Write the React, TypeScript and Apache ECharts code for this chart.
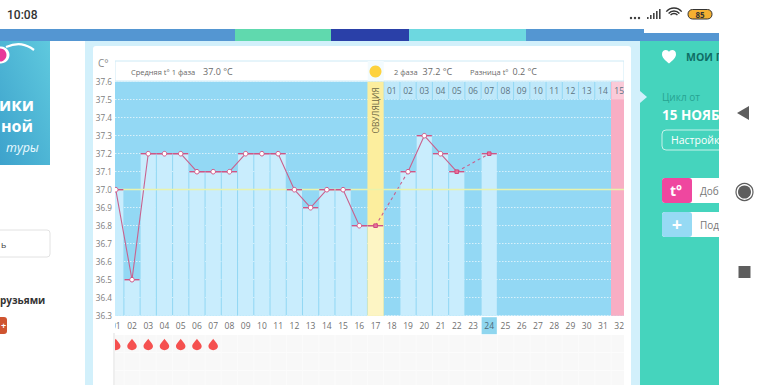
import React, { useEffect, useRef } from "react";
import * as echarts from "echarts";

const axisDays = Array.from({ length: 32 }, (_, i) => i + 1);
const dayLabels = ["01","02","03","04","05","06","07","08","09","10","11","12","13","14","15","16","17","18","19","20","21","22","23","24","25","26","27","28","29","30","31","32"];
const temps: [number, number][] = [[1,37.0],[2,36.5],[3,37.2],[4,37.2],[5,37.2],[6,37.1],[7,37.1],[8,37.1],[9,37.2],[10,37.2],[11,37.2],[12,37.0],[13,36.9],[14,37.0],[15,37.0],[16,36.8],[17,36.8],[19,37.1],[20,37.3],[21,37.2],[22,37.1],[24,37.2]];
const squareDays = [17, 22, 24];
const solidRuns = [[1, 17], [19, 22]];
const dashedRuns = [[17, 19], [22, 24]];
const periodDays = [1, 2, 3, 4, 5, 6, 7];
const phase2Days = [18,19,20,21,22,23,24,25,26,27,28,29,30,31,32];
const phase2Labels = ["01","02","03","04","05","06","07","08","09","10","11","12","13","14","15"];
const selectedDay = 24;
const ovulationDay = 17;
const fertileDay = 32;
const meanTemp = 37.0;

const DROP = "path://M5 0C4 2 0 6 0 9a5 4.6 0 0 0 10 0C10 6 6 2 5 0z";
const HEART = "M10 18C4 13 0 10 0 5.5 0 2 2.5 0 5.5 0 7.5 0 9 1 10 2.5 11 1 12.5 0 14.5 0 17.5 0 20 2 20 5.5 20 10 16 13 10 18z";
echarts.graphic.registerShape("heart", echarts.graphic.extendPath(HEART, {}) as any);

const FF = "'Open Sans', sans-serif";
const rect = (x: number, y: number, w: number, h: number, fill: any, z = -10, r = 0, stroke?: string) => ({
  type: "rect", z, shape: { x, y, width: w, height: h, r }, style: { fill, stroke, lineWidth: stroke ? 1 : 0 }, silent: true,
});
const text = (x: number, y: number, t: string, size: number, fill: string, z = 60, weight: any = "normal", extra: any = {}) => ({
  type: "text", z, x, y, silent: true,
  style: { text: t, fontSize: size, fill, fontFamily: FF, fontWeight: weight, textVerticalAlign: "middle", ...extra },
});

function buildGraphic() {
  const g: any[] = [];
  // page structure
  g.push(rect(0, 29, 719, 12, "#5496d2"));
  g.push(rect(235, 29, 96, 12, "#60d9ae"));
  g.push(rect(331, 29, 78, 12, "#2a40a8"));
  g.push(rect(409, 29, 117, 12, "#6dd8e0"));
  g.push(rect(644, 29, 75, 4, "#ffffff"));
  g.push(rect(85, 41, 555, 344, "#d2f0fb"));
  g.push(rect(93, 46, 538, 339, "#ffffff", -9, 3));
  g.push(rect(115, 61, 509, 20, "#ffffff", -8, 0, "#cdeaf6"));
  g.push(rect(367.7, 61, 16, 20, "#f3fbfe", -7));
  g.push(rect(115, 335, 509, 50, "#f8f8f8", -8));
  [352, 370].forEach((y) => g.push(rect(115, y, 509, 1, "#fcfcfc", -7)));
  axisDays.forEach((d) => g.push(rect(115.76 + (d - 0.5) * 16.24 - 0.5, 335, 1, 50, "#fbfbfb", -7)));

  // card edges that overlap the plot
  g.push(rect(93, 61, 22, 324, "#ffffff", 100));
  g.push(rect(113, 333, 2, 52, "#efefef", 101));
  g.push(rect(624, 61, 7, 324, "#ffffff", 100));
  g.push(rect(631, 41, 9, 344, "#d2f0fb", 101));

  // header
  g.push(text(98, 63, "C°", 10, "#8a8a8a", 200));
  g.push(text(131, 72, "Средняя t° 1 фаза", 7.5, "#6a6a6a"));
  g.push(text(203, 71.5, "37.0 °C", 9, "#6a6a6a"));
  g.push({ type: "circle", z: 60, silent: true, shape: { cx: 375.5, cy: 71.5, r: 6 }, style: { fill: "#fdd23e" } });
  g.push(text(394, 72, "2 фаза", 7.5, "#6a6a6a"));
  g.push(text(422.5, 71.5, "37.2 °C", 9, "#6a6a6a"));
  g.push(text(470, 72, "Разница t°", 7.5, "#6a6a6a"));
  g.push(text(512.5, 71.5, "0.2 °C", 9, "#6a6a6a"));
  g.push({ type: "text", z: 60, silent: true, x: 375.5, y: 110.5, rotation: Math.PI / 2,
    style: { text: "ОВУЛЯЦИЯ", fontSize: 8.4, fill: "#6f6a45", fontFamily: FF, textAlign: "center", textVerticalAlign: "middle" } });

  // status bar
  g.push(text(7, 15, "10:08", 12, "#333333", 120, 500, { fontFamily: "Roboto" }));
  [631, 635, 639].forEach((x) => g.push({ type: "circle", z: 120, silent: true, shape: { cx: x, cy: 18, r: 1.2 }, style: { fill: "#333" } }));
  [[647, 2], [650, 4], [653, 6], [656, 8], [659, 10]].forEach(([x, h]) => g.push(rect(x, 19 - h, 1.6, h, "#444", 120)));
  [9, 6, 3.5].forEach((r) => g.push({ type: "arc", z: 120, silent: true,
    shape: { cx: 674, cy: 18, r: r + 1, startAngle: -Math.PI * 0.78, endAngle: -Math.PI * 0.22 }, style: { stroke: "#333", lineWidth: 1.4, fill: "none" } }));
  g.push(rect(688, 9.5, 24, 9.5, "#f5b031", 120, 4.5, "#333333"));
  g.push(text(700, 14.5, "85", 8, "#333", 121, "bold", { textAlign: "center" }));

  // left page column
  g.push({ ...rect(0, 41, 50, 124, new echarts.graphic.LinearGradient(0, 1, 1, 0, [{ offset: 0, color: "#3da2cc" }, { offset: 1, color: "#5fc9de" }])) });
  g.push({ type: "bezierCurve", z: -5, silent: true, shape: { x1: 6, y1: 47, cpx1: 18, cpy1: 42, cpx2: 26, cpy2: 44, x2: 34, y2: 50 }, style: { stroke: "#fff", lineWidth: 2.2, fill: "none" } });
  g.push({ type: "circle", z: -5, silent: true, shape: { cx: 1, cy: 55, r: 8.5 }, style: { fill: "#ffffff" } });
  g.push({ type: "circle", z: -4, silent: true, shape: { cx: 0, cy: 55, r: 6.5 }, style: { fill: "#e8389a" } });
  g.push(text(-1, 104, "ики", 17, "#fff", -4, "bold"));
  g.push(text(1, 126, "ной", 16, "#fff", -4, "bold"));
  g.push(text(6, 147, "туры", 12.5, "#eafaff", -4, "normal", { fontStyle: "italic" }));
  g.push(rect(-5, 230, 55, 27, "#fff", -5, 3, "#e2e2e2"));
  g.push(text(1, 244, "ь", 9, "#444", -4));
  g.push(text(0, 300, "рузьями", 10, "#333", -4, "bold"));
  g.push(rect(-4, 317, 11, 17, "#cf5430", -5, 3));
  g.push(text(1, 325, "+", 9, "#fff", -4, "bold"));

  // right teal panel
  g.push(rect(640, 41, 79, 344, "#45d4bd", 110));
  g.push({ type: "polygon", z: 111, silent: true, shape: { points: [[640, 91], [647, 97], [640, 103]] }, style: { fill: "#d2f0fb" } });
  g.push({ type: "heart", z: 112, x: 662, y: 50, scaleX: 0.7, scaleY: 0.75, silent: true, style: { fill: "#ffffff" } });
  g.push(text(686, 57, "МОИ ПЕРИОДЫ", 10.5, "#0f6e66", 112, "bold"));
  g.push(text(662, 97, "Цикл от", 10, "#27a392", 112));
  g.push(text(662, 115, "15 НОЯБРЯ", 13.5, "#ffffff", 112, "bold"));
  g.push({ ...rect(662, 130, 70, 20, "none", 112, 4, "#c7f2ea") });
  g.push(text(671, 140, "Настройки", 10.5, "#ffffff", 112));
  g.push(rect(662, 178, 60, 25, "#ffffff", 112, 3));
  g.push(rect(662, 178, 30, 25, "#ef479f", 113, 3));
  g.push(text(670, 190, "t°", 14, "#ffffff", 114, "bold"));
  g.push(text(700, 191, "Добавить", 10, "#777", 113));
  g.push(rect(662, 212, 60, 25, "#ffffff", 112, 3));
  g.push(rect(662, 212, 30, 25, "#96daf4", 113, 3));
  g.push(text(677, 224, "+", 18, "#ffffff", 114, "bold", { textAlign: "center" }));
  g.push(text(700, 225, "Подробнее", 10, "#777", 113));

  // android nav
  g.push(rect(719, 0, 51, 385, "#ffffff", 130));
  g.push({ type: "polygon", z: 131, silent: true, shape: { points: [[737, 113], [749, 106], [749, 120]] }, style: { fill: "#5e5e5e" } });
  g.push({ type: "circle", z: 131, silent: true, shape: { cx: 744.5, cy: 192, r: 8.5 }, style: { fill: "#fff", stroke: "#5e5e5e", lineWidth: 1.2 } });
  g.push({ type: "circle", z: 132, silent: true, shape: { cx: 744.5, cy: 192, r: 6.5 }, style: { fill: "#5e5e5e" } });
  g.push(rect(738.5, 266, 12, 12, "#5e5e5e", 131));
  return g;
}

const run = (from: number, to: number) => temps.filter(([d]) => d >= from && d <= to);

function buildOption() {
  const xScale = { type: "value", min: 0.953, max: 32.3 };
  const series: any[] = [
    {
      name: "Столбцы", type: "bar", xAxisIndex: 0, yAxisIndex: 0, barWidth: 15.2, z: 2,
      data: temps.map(([d, t]) => ({ value: [d, t], itemStyle: { color: d === ovulationDay ? "#fdf5c4" : "#c9edfd" } })),
      markArea: {
        silent: true,
        data: [
          [{ xAxis: ovulationDay - 0.5, itemStyle: { color: "#fcee9e", opacity: 1 } }, { xAxis: ovulationDay + 0.5 }],
          [{ xAxis: fertileDay - 0.5, itemStyle: { color: "#f8aec4", opacity: 1 } }, { xAxis: 32.3 }],
        ],
      },
    },
    ...solidRuns.map(([a, b]) => ({
      name: "Температура", type: "line", data: run(a, b), showSymbol: false, symbol: "none", z: 4,
      lineStyle: { color: "#c9628e", width: 1.1 },
    })),
    ...dashedRuns.map(([a, b]) => ({
      name: "Пропуск", type: "line", data: run(a, b), showSymbol: false, symbol: "none", z: 4,
      lineStyle: { color: "#c9628e", width: 1.1, type: [3, 3] },
    })),
    {
      name: "Средняя", type: "line", data: [], z: 3,
      markLine: { silent: true, symbol: "none", label: { show: false }, lineStyle: { color: "#e9f3ac", width: 1.4, type: "solid" }, data: [{ yAxis: meanTemp }] },
    },
    {
      name: "Черта", type: "scatter", data: temps, symbol: "rect", symbolSize: [15.2, 1.4], z: 5,
      itemStyle: { color: "#cf5686", opacity: 1 },
    },
    {
      name: "Точки", type: "scatter", z: 6,
      data: temps.map(([d, t]) => squareDays.includes(d)
        ? { value: [d, t], symbol: "rect", symbolSize: 3.6, itemStyle: { color: "#e9759c", borderColor: "#cf4a7e", borderWidth: 1, opacity: 1 } }
        : { value: [d, t], symbol: "circle", symbolSize: 4.6, itemStyle: { color: "#ffffff", borderColor: "#cf5686", borderWidth: 1, opacity: 1 } }),
    },
    {
      name: "Дни 2 фазы", type: "scatter", z: 3, symbol: "rect", symbolSize: [15.2, 17.5],
      data: phase2Days.map((d, i) => ({
        value: [d, 37.55], name: phase2Labels[i],
        itemStyle: { color: d === fertileDay ? "#fbcbd9" : "#bfe8fa", opacity: 1 },
      })),
      label: { show: true, position: "inside", formatter: (p: any) => p.name, fontSize: 8.5, color: "#5c7482", fontFamily: FF },
    },
    {
      name: "Менструация", type: "scatter", xAxisIndex: 1, yAxisIndex: 2, z: 5,
      symbol: DROP, symbolSize: [9.5, 11.5], itemStyle: { color: "#f5504f", opacity: 1 },
      data: periodDays.map((d) => [d, 0.5]),
    },
  ];
  const labelBox = { fontSize: 8.5, fontFamily: FF, width: 15.2, height: 17, lineHeight: 17, align: "center" };
  return {
    animation: false,
    backgroundColor: "#ffffff",
    grid: [
      { left: 115, width: 509, top: 81.7, height: 234, show: true, backgroundColor: "#93d8f4", borderWidth: 0 },
      { left: 115, width: 509, top: 336, height: 17, show: false },
    ],
    xAxis: [
      {
        ...xScale, gridIndex: 0, position: "bottom", splitLine: { show: false },
        axisLine: { show: false }, axisTick: { show: false },
        axisLabel: {
          customValues: axisDays, margin: 1.5, showMinLabel: true, showMaxLabel: true,
          formatter: (v: number) => {
            const s = dayLabels[Math.round(v) - 1] ?? "";
            return Math.round(v) === selectedDay ? `{sel|${s}}` : `{n|${s}}`;
          },
          rich: {
            n: { ...labelBox, color: "#6f6f6f" },
            sel: { ...labelBox, backgroundColor: "#8fd6ef", color: "#4e6a78" },
          },
        },
      },
      { ...xScale, gridIndex: 1, show: false },
    ],
    yAxis: [
      {
        type: "value", gridIndex: 0, min: 36.3, max: 37.6, interval: 0.1,
        axisLabel: { show: false }, axisLine: { show: false }, axisTick: { show: false },
        splitLine: { show: true, lineStyle: { color: "#d8f1fb", width: 1, type: [1.5, 1.5] } },
      },
      {
        type: "value", gridIndex: 0, min: 36.3, max: 37.6, interval: 0.1, position: "left", z: 200,
        axisLine: { show: false }, axisTick: { show: false }, splitLine: { show: false },
        axisLabel: { show: true, margin: 3, fontFamily: FF, fontSize: 8.2, color: "#7d7d7d", formatter: (v: number) => v.toFixed(1), showMinLabel: true, showMaxLabel: true },
      },
      { type: "value", gridIndex: 1, min: 0, max: 1, show: false },
    ],
    series,
    graphic: { elements: buildGraphic() },
  };
}

export default function App() {
  const ref = useRef<HTMLDivElement>(null);
  useEffect(() => {
    document.body.style.margin = "0";
    const chart = echarts.init(ref.current!, undefined, { renderer: "svg" });
    chart.setOption(buildOption() as any);
    return () => chart.dispose();
  }, []);
  return <div ref={ref} style={{ width: 770, height: 385, position: "absolute", left: 0, top: 0 }} />;
}
